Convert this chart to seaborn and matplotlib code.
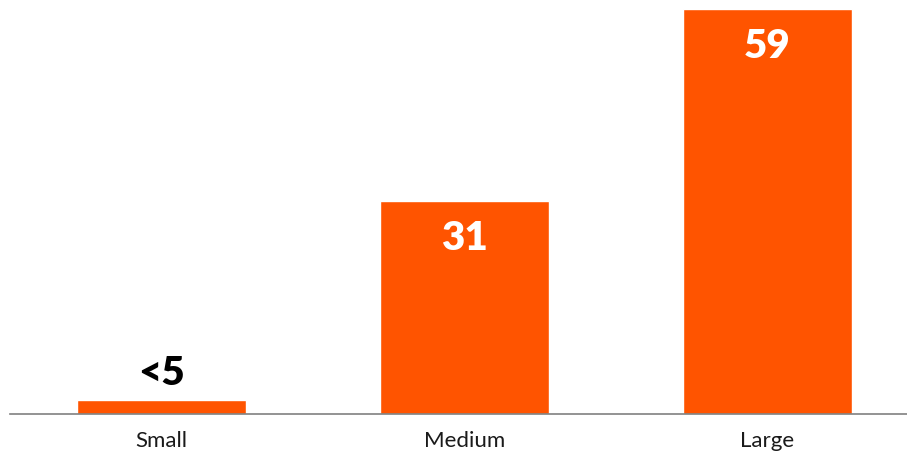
import matplotlib
matplotlib.use("Agg")
import matplotlib.pyplot as plt
import seaborn as sns
import pandas as pd

categories = ["Small", "Medium", "Large"]
values = [2, 31, 59]
value_labels = ["<5", "31", "59"]

sns.set_theme(style="white")
plt.rcParams['font.family'] = ['Lato', 'DejaVu Sans']

df = pd.DataFrame({"size": categories, "value": values})

fig = plt.figure(figsize=(9.07, 4.55), dpi=100)
ax = fig.add_axes([10/907, 41/455, 897/907, 414/455])
sns.barplot(data=df, x="size", y="value", color="#FF5400", saturation=1,
            width=0.558, ax=ax)

ax.set_xlim(-0.5, 2.462)
ax.set_ylim(0, 59 * 414 / 404.7)

for sp in ["top", "right", "left"]:
    ax.spines[sp].set_visible(False)
ax.spines["bottom"].set_color("#808080")
ax.spines["bottom"].set_linewidth(1.2)
ax.set_yticks([])
ax.set_xlabel("")
ax.set_ylabel("")
ax.tick_params(axis="x", length=0, pad=12, labelsize=16, labelcolor="#1a1a1a")
for t in ax.get_xticklabels():
    t.set_fontweight("normal")

for i, (v, lab) in enumerate(zip(values, value_labels)):
    if v > 10:
        ax.annotate(lab, (i, v), xytext=(0, -27), textcoords="offset points",
                    ha="center", va="center", fontsize=29, fontweight="heavy",
                    color="white")
    else:
        ax.annotate(lab, (i, v), xytext=(0, 19), textcoords="offset points",
                    ha="center", va="center", fontsize=29, fontweight="heavy",
                    color="black")

fig.savefig("out.png", dpi=100)
